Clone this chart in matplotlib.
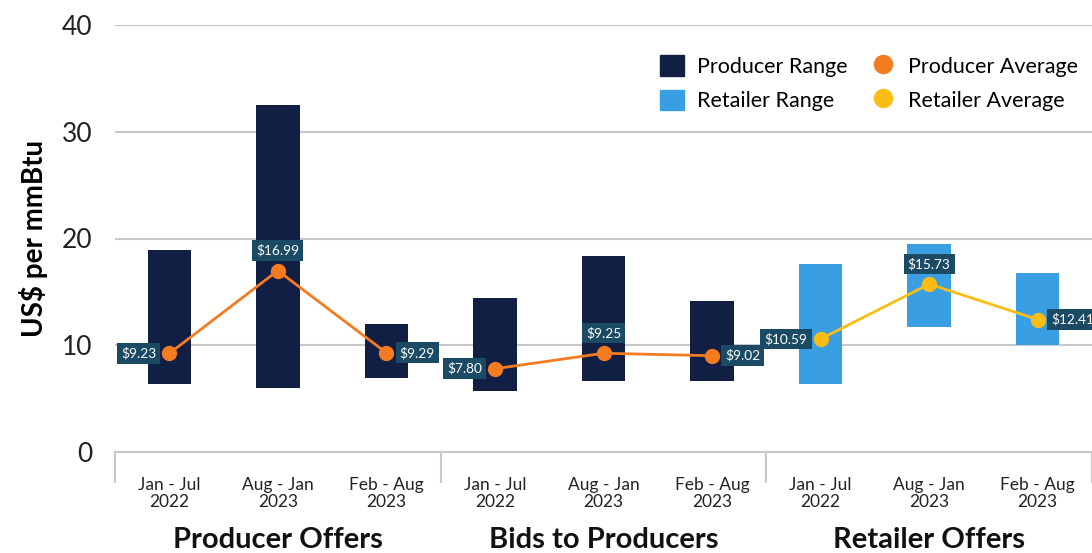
import numpy as np
import matplotlib
matplotlib.use("Agg")
import matplotlib.pyplot as plt
from matplotlib.patches import Patch
from matplotlib.lines import Line2D
import matplotlib.transforms as mtransforms

plt.rcParams['font.family'] = ['Lato', 'DejaVu Sans']

# data
periods = ["Jan - Jul\n2022", "Aug - Jan\n2023", "Feb - Aug\n2023"] * 3
groups = ["Producer Offers", "Bids to Producers", "Retailer Offers"]
range_low = [6.4, 6.0, 6.9, 5.7, 6.65, 6.65, 6.35, 11.75, 10.0]
range_high = [18.9, 32.5, 12.0, 14.4, 18.35, 14.15, 17.6, 19.5, 16.8]
producer_avg = [9.23, 16.99, 9.29, 7.80, 9.25, 9.02]
retailer_avg = [10.59, 15.73, 12.41]
label_side = ["left", "above", "right"] * 3

NAVY = "#111f45"
LIGHT = "#3a9fe2"
ORANGE = "#f47b20"
YELLOW = "#fbbd14"
BOX = "#1b4a64"
GRID = "#c8c8c8"

fig = plt.figure(figsize=(10.92, 5.53), dpi=100)
ax = fig.add_axes([115 / 1092, 101 / 553, 1 - 115 / 1092, 427 / 553])

x = np.arange(len(periods))
ax.set_xlim(-0.5, 8.5)
ax.set_ylim(0, 40)

# grid
for yv in [10, 20, 30, 40]:
    ax.axhline(yv, color=GRID, lw=1.5, zorder=0)
ax.axhline(0, color=GRID, lw=1.5, zorder=0, clip_on=False)

# range bars
for i in range(9):
    col = LIGHT if i >= 6 else NAVY
    ax.bar(x[i], range_high[i] - range_low[i], bottom=range_low[i], width=0.4,
           color=col, zorder=2)

# average lines (separate segments per group)
prod_x = x[:6]
for seg in [slice(0, 3), slice(3, 6)]:
    ax.plot(prod_x[seg], producer_avg[seg], color=ORANGE, lw=2, marker="o",
            ms=10, zorder=3)
ax.plot(x[6:], retailer_avg, color=YELLOW, lw=2, marker="o", ms=10, zorder=3)

all_avg = producer_avg + retailer_avg
for i, v in enumerate(all_avg):
    side = label_side[i]
    if side == "left":
        off, ha, va = (-9.5, 0), "right", "center"
    elif side == "right":
        off, ha, va = (9.5, 0), "left", "center"
    else:
        off, ha, va = (0, 10), "center", "bottom"
    ax.annotate(f"${v:.2f}", (x[i], v), xytext=off, textcoords="offset points",
                ha=ha, va=va, color="white", fontsize=9.8, zorder=5,
                bbox=dict(boxstyle="square,pad=0.3", fc=BOX, ec="none"))

# axes styling
for s in ax.spines.values():
    s.set_visible(False)
ax.set_yticks([0, 10, 20, 30, 40])
ax.tick_params(axis="y", length=0, labelsize=19, pad=16, labelcolor="#222222")
ax.set_xticks(x)
ax.set_xticklabels(periods, fontsize=12.5, color="#222222", linespacing=1.1)
ax.tick_params(axis="x", length=0, pad=18)
ax.set_ylabel("US$ per mmBtu", fontsize=20, fontweight="bold", labelpad=10)

# group separators
for sx in [-0.5, 2.5, 5.5, 8.5]:
    ax.plot([sx, sx], [0, -2.8], color=GRID, lw=1.5, clip_on=False, zorder=1)

trans = mtransforms.blended_transform_factory(ax.transData, ax.transAxes)
for g, name in enumerate(groups):
    ax.text(3 * g + 1, -0.224, name, transform=trans, ha="center", va="baseline",
            fontsize=21, fontweight="bold", color="#111111")

handles = [Patch(color=NAVY, label="Producer Range"),
           Patch(color=LIGHT, label="Retailer Range"),
           Line2D([], [], color=ORANGE, marker="o", ls="none", ms=13,
                  label="Producer Average"),
           Line2D([], [], color=YELLOW, marker="o", ls="none", ms=13,
                  label="Retailer Average")]
ax.legend(handles=handles, ncol=2, loc="upper right", bbox_to_anchor=(1.005, 0.975),
          frameon=False, fontsize=15.5, handlelength=1.1, handleheight=1.1,
          columnspacing=1.1, labelspacing=0.6, handletextpad=0.6)

fig.savefig("out.png", dpi=100)
